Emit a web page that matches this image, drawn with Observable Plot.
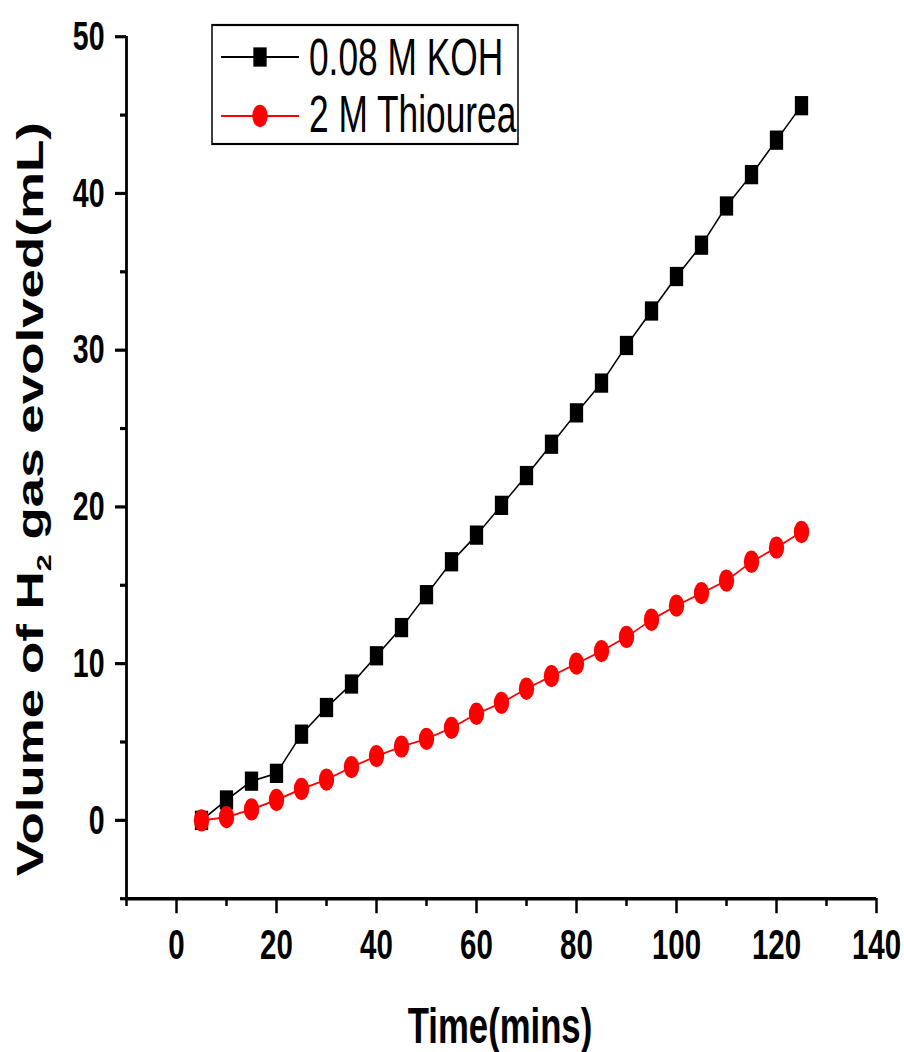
<!DOCTYPE html>
<html>
<head>
<meta charset="utf-8">
<script src="https://cdn.jsdelivr.net/npm/d3@7"></script>
<script src="https://cdn.jsdelivr.net/npm/@observablehq/plot@0.6"></script>
<style>
  html, body { margin: 0; padding: 0; background: white; overflow: hidden; }
</style>
</head>
<body>
<div id="chart"></div>
<script>
// ---- data ----
const time = [5, 10, 15, 20, 25, 30, 35, 40, 45, 50, 55, 60, 65, 70, 75, 80, 85, 90, 95, 100, 105, 110, 115, 120, 125];
const koh = [0, 1.3, 2.5, 3.0, 5.5, 7.2, 8.7, 10.5, 12.3, 14.4, 16.5, 18.2, 20.1, 22.0, 24.0, 26.0, 27.9, 30.3, 32.5, 34.7, 36.7, 39.2, 41.2, 43.4, 45.6];
const thiourea = [0, 0.2, 0.7, 1.3, 2.0, 2.6, 3.4, 4.1, 4.7, 5.2, 5.9, 6.8, 7.5, 8.4, 9.2, 10.0, 10.8, 11.7, 12.8, 13.7, 14.5, 15.3, 16.5, 17.4, 18.4];
const seriesNames = ["0.08 M KOH", "2 M Thiourea"];
const xTicks = [0, 20, 40, 60, 80, 100, 120, 140];
const xMinorTicks = [-10, 10, 30, 50, 70, 90, 110, 130];
const yTicks = [0, 10, 20, 30, 40, 50];
const yMinorTicks = [-5, 5, 15, 25, 35, 45];
const xLabel = "Time(mins)";
const yLabelParts = ["Volume of H", "2", " gas evolved(mL)"];

// ---- layout (the original picture is stretched vertically) ----
const S = 1.45;
const W = 904, FULL_H = 1052, H = FULL_H / S;
const font = "'Liberation Sans', Arial, sans-serif";

const kohData = time.map((t, i) => ({t, v: koh[i]}));
const thData = time.map((t, i) => ({t, v: thiourea[i]}));

const svg = Plot.plot({
  width: W,
  height: H,
  marginLeft: 126,
  marginRight: 28,
  marginTop: 36 / S,
  marginBottom: H - 898 / S,
  x: {domain: [-10, 140]},
  y: {domain: [-5, 50]},
  style: {fontFamily: font, background: "white", color: "black", overflow: "visible"},
  marks: [
    Plot.axisY({ticks: yTicks, tickSize: 11, tickPadding: 11, fontSize: 28.5, fontWeight: "bold", strokeWidth: 2.2, label: null, tickFormat: d => String(d)}),
    Plot.axisY({ticks: yMinorTicks, tickSize: 6, text: null, label: null, strokeWidth: 2.2}),
    Plot.axisX({ticks: xTicks, tickSize: 10.5, tickPadding: 10, fontSize: 29.5, fontWeight: "bold", strokeWidth: 2.5, label: null, tickFormat: d => String(d)}),
    Plot.axisX({ticks: xMinorTicks, tickSize: 5.5, text: null, label: null, strokeWidth: 2.5}),
    Plot.ruleX([-10], {y1: -5, y2: 50, strokeWidth: 2.8}),
    Plot.ruleY([-5], {x1: -10, x2: 140, strokeWidth: 2.3}),
    Plot.line(kohData, {x: "t", y: "v", stroke: "black", strokeWidth: 1.3}),
    Plot.dot(kohData, {x: "t", y: "v", symbol: "square", fill: "black", r: 7.5}),
    Plot.line(thData, {x: "t", y: "v", stroke: "red", strokeWidth: 1.3}),
    Plot.dot(thData, {x: "t", y: "v", symbol: "circle", fill: "red", r: 7.7})
  ]
});

// stretch vertically like the source image
svg.setAttribute("height", FULL_H);
svg.setAttribute("preserveAspectRatio", "none");
svg.style.width = W + "px";
svg.style.height = FULL_H + "px";
svg.style.maxWidth = "none";

const g = d3.select(svg).append("g").attr("font-family", font).attr("fill", "black");

// x label
g.append("text")
  .attr("x", 500).attr("y", 1043 / S)
  .attr("text-anchor", "middle")
  .attr("font-size", 34.7).attr("font-weight", "bold")
  .text(xLabel);

// y label with subscript
const yl = g.append("text")
  .attr("transform", `translate(43,${499 / S}) rotate(-90)`)
  .attr("text-anchor", "middle")
  .attr("font-size", 36.5).attr("font-weight", "bold");
yl.append("tspan").text(yLabelParts[0]);
yl.append("tspan").attr("font-size", 21).attr("dy", 8).text(yLabelParts[1]);
yl.append("tspan").attr("dy", -8).text(yLabelParts[2]);

// legend
const lg = g.append("g");
lg.append("rect")
  .attr("x", 212).attr("y", 25 / S)
  .attr("width", 306).attr("height", 119 / S)
  .attr("fill", "white").attr("stroke", "black").attr("stroke-width", 1.5);
const rows = [
  {name: seriesNames[0], color: "black", sym: d3.symbolSquare, r: 7.5, y: 57 / S, base: 75 / S},
  {name: seriesNames[1], color: "red", sym: d3.symbolCircle, r: 7.7, y: 116 / S, base: 132 / S}
];
for (const row of rows) {
  lg.append("line")
    .attr("x1", 221).attr("x2", 299).attr("y1", row.y).attr("y2", row.y)
    .attr("stroke", row.color).attr("stroke-width", 1.3);
  lg.append("path")
    .attr("transform", `translate(260,${row.y})`)
    .attr("d", d3.symbol(row.sym, row.r * row.r * Math.PI)())
    .attr("fill", row.color);
  lg.append("text")
    .attr("x", 309).attr("y", row.base)
    .attr("text-anchor", "start")
    .attr("font-size", 35.3)
    .text(row.name);
}

document.getElementById("chart").appendChild(svg);
</script>
</body>
</html>
